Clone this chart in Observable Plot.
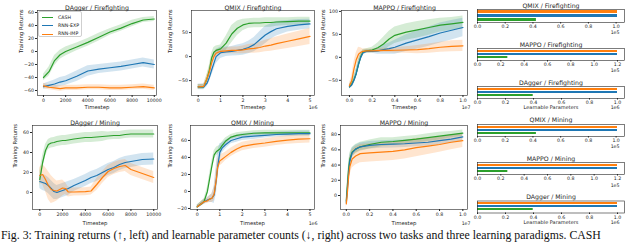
<!DOCTYPE html>
<html><head><meta charset="utf-8">
<script src="https://cdn.jsdelivr.net/npm/d3@7"></script>
<script src="https://cdn.jsdelivr.net/npm/@observablehq/plot@0.6"></script>
<style>
body{margin:0;background:#fff;}
#root{position:relative;width:640px;height:242px;overflow:hidden;background:#fff;font-family:"DejaVu Sans",sans-serif;color:#262626;}
.legend{position:absolute;left:38px;top:11px;width:44px;height:26px;box-sizing:border-box;border:0.6px solid #cfcfcf;border-radius:2px;background:rgba(255,255,255,0.85);font-size:4.7px;}
.legend div{position:absolute;left:3px;height:5px;line-height:5px;white-space:nowrap;}
.legend span{display:inline-block;width:11px;height:1.1px;vertical-align:middle;margin-right:5px;}
.caption{position:absolute;left:1px;top:229px;height:12px;line-height:12px;white-space:nowrap;font-family:"Liberation Serif",serif;font-size:11.8px;color:#111;}
</style></head>
<body><div id="root"></div>
<script>
const series = ["CASH", "RNN-EXP", "RNN-IMP"];
const colors = ["#2ca02c", "#1f77b4", "#ff7f0e"];
const barOrder = ["RNN-IMP", "RNN-EXP", "CASH"];

// DAgger / Firefighting
const dagFireT = [0,500,1000,1500,2000,3000,4000,5000,6000,7000,8000,9000,10000];
const dagFireCASH = [-40,-31,-14,-5,0,7,14,22,30,36,43,48.5,50];
const dagFireCASHsd = [5,7,8,7,7,6,6,6,5,5,5,4,4];
const dagFireEXP = [-54,-52,-50,-47,-45,-38,-30,-27,-25,-23,-20,-17,-20];
const dagFireEXPsd = [4,5,6,7,7,8,8,7,7,7,7,7,7];
const dagFireIMP = [-53,-55,-56,-57,-56,-56,-55,-55,-56,-56,-55,-54,-56];
const dagFireIMPsd = [4,4,4,4,4,4,4,4,4,4,4,4,4];

// QMIX / Firefighting
const qmixFireT = [0,250000,400000,500000,600000,700000,800000,1000000,1250000,1500000,1750000,2000000,2250000,2500000,2750000,3000000,3250000,3500000,4000000,4500000,5000000];
const qmixFireCASH = [-63,-63,-45,-28,-3,9,13,16,28,47,59,66,69,70,70,71,71,72,73,74,74];
const qmixFireCASHsd = [5,5,8,10,10,10,9,8,15,18,15,12,10,10,10,10,10,9,8,8,8];
const qmixFireEXP = [-63,-63,-55,-43,-28,-14,0,8,10,11,13,15,19,25,35,45,52,58,63,66,68];
const qmixFireEXPsd = [6,6,8,10,12,14,15,12,10,10,11,12,13,15,17,18,16,15,12,11,10];
const qmixFireIMP = [-63,-62,-45,-32,-13,0,7,11,12,13,13,14,16,17,19,22,24,27,32,37,42];
const qmixFireIMPsd = [5,5,8,10,10,8,7,6,6,7,7,8,9,10,11,12,13,14,15,16,17];

// MAPPO / Firefighting
const mappoFireT = [0,200000,400000,600000,800000,1000000,1200000,1500000,2000000,2500000,3000000,3500000,4000000,5000000,6000000,7000000,8000000,9000000,10000000];
const mappoFireIMP = [-62,-51,-25,-5,7,11,13,14,14,14.5,15,15,15.5,16,17,19,22,24,25];
const mappoFireIMPsd = [5,10,15,15,15,10,5,4,4,4,5,5,6,7,9,10,11,12,12];
const mappoFireEXP = [-64,-60,-50,-35,-15,0,10,13,13,14,17,19,22,31,38,45,53,59,65];
const mappoFireEXPsd = [5,6,8,10,10,8,5,4,4,7,10,12,15,18,20,21,22,21,20];
const mappoFireCASH = [-64,-58,-48,-35,-15,2,12,14,16,21,29,40,48,55,60,65,70,73,76];
const mappoFireCASHsd = [5,6,8,10,10,8,5,5,6,10,15,17,18,18,18,17,15,14,14];

// DAgger / Mining
const dagMineT = [0,250,500,750,1000,1250,1500,2000,2250,2500,3000,4000,4500,5000,5500,6000,6500,7000,7500,8000,9000,10000];
const dagMineCASH = [13,30,42,48,49.5,50,51,52,52,52.5,53.5,55,55,55.5,56,56.5,57,57,58,58.5,58.5,58.5];
const dagMineCASHsd = [8,7,6,5,5,5,5,5,5,5,5,5,5,5,5,4,4,4,4,4,4,4];
const dagMineEXP = [11,10,9,7,4,1,0,2,3,4,7,12,15,17,20,23,25,28,30,31,33,33.5];
const dagMineEXPsd = [7,8,8,8,8,8,7,7,7,7,6,6,6,6,6,6,6,6,6,6,6,6];
const dagMineIMP = [17,18,13,7,3,2,1.5,4.5,4,0.5,0.5,0.8,1.5,8,15,21,24,26,27,23,19,15];
const dagMineIMPsd = [8,10,12,14,14,12,10,8,6,5,4,4,4,6,6,6,6,6,6,6,6,6];

// QMIX / Mining
const qmixMineT = [0,300000,450000,550000,650000,750000,850000,900000,1000000,1100000,1250000,1500000,1750000,2000000,2500000,3000000,3500000,4000000,4500000,5000000];
const qmixMineCASH = [-18,-12,0,15,30,43,47,48,50,54,59,64,66,67,68.5,69,69,69,69,69];
const qmixMineCASHsd = [2,3,5,6,6,5,5,5,4,4,4,3,3,3,3,3,3,3,3,3];
const qmixMineEXP = [-18,-12,-10,-9,-8,-4,15,28,46,51,55,60,62,64,65,66,67,67.5,68,68];
const qmixMineEXPsd = [2,3,3,4,5,10,18,18,10,6,5,4,4,4,4,3,3,3,3,3];
const qmixMineIMP = [-18,-12,-11,-9,-8,-3,15,28,36,38,41,46,50,53,55.5,57,59,60.5,61.5,62];
const qmixMineIMPsd = [2,3,3,4,5,8,12,10,6,6,5,5,5,5,5,5,5,5,5,5];

// MAPPO / Mining
const mappoMineT = [0,100000,200000,300000,500000,800000,1200000,2000000,3000000,4000000,5000000,6000000,7000000,8000000,9000000,10000000];
const mappoMineIMP = [-11,5,25,38,48,52,55,56,57,58,60,63,65,67,70,72];
const mappoMineIMPsd = [6,10,12,12,12,12,12,12,12,12,12,12,11,10,10,9];
const mappoMineEXP = [-9,10,30,45,56,61,64,66,67,67.5,68,69,70,72,74,77];
const mappoMineEXPsd = [5,8,10,8,6,5,5,5,5,5,5,5,5,5,5,5];
const mappoMineCASH = [-7,15,35,48,57,61,64,67,70,71,72.5,74,76,78,80,82];
const mappoMineCASHsd = [5,8,8,8,6,6,6,6,6,5,5,5,5,5,4,4];

// Learnable parameter counts (order: RNN-IMP, RNN-EXP, CASH)
const qmixFireParams = [101000, 101000, 42500];
const mappoFireParams = [120000, 120000, 26000];
const dagFireParams = [1000000, 1000000, 398000];
const qmixMineParams = [101000, 101000, 42500];
const mappoMineParams = [120000, 120000, 26000];
const dagMineParams = [1000000, 1000000, 398000];

const captionText = "Fig. 3: Training returns (\u2191, left) and learnable parameter counts (\u2193, right) across two tasks and three learning paradigms. CASH";

const root = document.getElementById("root");

function rowsOf(t, triples) {
  const out = [];
  for (const [name, v, sd] of triples) {
    t.forEach((x, i) => out.push({t: x, y: v[i], lo: v[i] - sd[i], hi: v[i] + sd[i], s: name}));
  }
  return out;
}

function place(svg, sx, sy) {
  svg.style.position = "absolute";
  svg.style.left = sx + "px";
  svg.style.top = sy + "px";
  svg.style.overflow = "visible";
  svg.style.background = "transparent";
  svg.style.maxWidth = "none";
  root.appendChild(svg);
}

const FONT = "DejaVu Sans";
const INK = "#262626";

function linePanel(c) {
  const ml = c.fx0 - c.sx, mr = c.sx + c.w - c.fx1, mt = c.fy0 - c.sy, mb = c.sy + c.h - c.fy1;
  const marks = [
    Plot.areaY(c.rows, {x: "t", y1: "lo", y2: "hi", z: "s", fill: "s", fillOpacity: 0.2, clip: true}),
    Plot.lineY(c.rows, {x: "t", y: "y", z: "s", stroke: "s", strokeWidth: 1.2, clip: true}),
    Plot.frame({stroke: INK, strokeWidth: 0.6}),
    Plot.axisX({ticks: c.xTicks, tickFormat: c.xFmt, tickSize: 2, tickPadding: 1.5, fontSize: 4.7, label: null}),
    Plot.axisY({ticks: c.yTicks, tickSize: 2, tickPadding: 1.5, fontSize: 4.7, label: null}),
    Plot.text([c.title], {text: d => d, frameAnchor: "top", dy: -5, fontSize: 6.2}),
    Plot.text(["Timestep"], {text: d => d, frameAnchor: "bottom", dy: c.xlabDy, fontSize: 5.4}),
    Plot.text(["Training Returns"], {text: d => d, frameAnchor: "left", rotate: -90, dx: c.ylabX - c.fx0, fontSize: 5.4})
  ];
  if (c.offset) marks.push(Plot.text([c.offset], {text: d => d, frameAnchor: "bottom-right", textAnchor: "end", dx: 3, dy: c.xlabDy, fontSize: 4.7}));
  const svg = Plot.plot({
    width: c.w, height: c.h, marginLeft: ml, marginRight: mr, marginTop: mt, marginBottom: mb,
    style: {fontFamily: FONT, color: INK, background: "transparent", overflow: "visible"},
    x: {domain: c.xDomain}, y: {domain: c.yDomain},
    color: {domain: series, range: colors},
    marks
  });
  place(svg, c.sx, c.sy);
}

function barPanel(c) {
  const ml = c.fx0 - c.sx, mr = c.sx + c.w - c.fx1, mt = c.fy0 - c.sy, mb = c.sy + c.h - c.fy1;
  const data = barOrder.map((s, i) => ({s, v: c.values[i]}));
  const maxV = d3.max(c.values);
  const marks = [
    Plot.barX(data, {x: "v", y: "s", fill: "s"}),
    Plot.frame({stroke: INK, strokeWidth: 0.6}),
    Plot.axisX({ticks: c.ticks.map(t => t * c.scale), tickFormat: d => (d / c.scale).toFixed(1), tickSize: 1.5, tickPadding: 1, fontSize: 4.7, label: null}),
    Plot.text([c.title], {text: d => d, frameAnchor: "top", dy: c.titleDy, fontSize: 6.2}),
    Plot.text([c.offset], {text: d => d, frameAnchor: "bottom-right", textAnchor: "end", dx: -5, dy: c.offDy, fontSize: 4.7})
  ];
  if (c.xlabel) marks.push(Plot.text([c.xlabel], {text: d => d, frameAnchor: "bottom", dy: c.offDy, fontSize: 5.0}));
  const svg = Plot.plot({
    width: c.w, height: c.h, marginLeft: ml, marginRight: mr, marginTop: mt, marginBottom: mb,
    style: {fontFamily: FONT, color: INK, background: "transparent", overflow: "visible"},
    x: {domain: [0, maxV * 1.05]},
    y: {type: "band", domain: barOrder, paddingInner: 0.2, paddingOuter: 0.14, axis: null},
    color: {domain: series, range: colors},
    marks
  });
  place(svg, c.sx, c.sy);
}

const fmtInt = d3.format("d");
const fmtM = d => fmtInt(d / 1e6);
const fmtT = d => (d / 1e7).toFixed(1);

// Top row line panels
linePanel({sx: 0, sy: 0, w: 160, h: 112, fx0: 37, fx1: 156, fy0: 10, fy1: 95,
  xDomain: [-540, 10200], yDomain: [-67.7, 63.1],
  xTicks: [0,2000,4000,6000,8000,10000], xFmt: fmtInt, yTicks: [-60,-40,-20,0,20,40,60],
  title: "DAgger / Firefighting", ylabX: 21, xlabDy: 13,
  rows: rowsOf(dagFireT, [["CASH", dagFireCASH, dagFireCASHsd], ["RNN-EXP", dagFireEXP, dagFireEXPsd], ["RNN-IMP", dagFireIMP, dagFireIMPsd]])});

linePanel({sx: 160, sy: 0, w: 160, h: 112, fx0: 191, fx1: 314, fy0: 10, fy1: 95,
  xDomain: [-300000, 5200000], yDomain: [-81, 96],
  xTicks: [0,1e6,2e6,3e6,4e6,5e6], xFmt: fmtM, yTicks: [-50,0,50],
  title: "QMIX / Firefighting", ylabX: 170, xlabDy: 13, offset: "1e6",
  rows: rowsOf(qmixFireT, [["CASH", qmixFireCASH, qmixFireCASHsd], ["RNN-EXP", qmixFireEXP, qmixFireEXPsd], ["RNN-IMP", qmixFireIMP, qmixFireIMPsd]])});

linePanel({sx: 320, sy: 0, w: 155, h: 112, fx0: 341, fx1: 467, fy0: 10, fy1: 95,
  xDomain: [-700000, 10400000], yDomain: [-83, 102],
  xTicks: [0,2e6,4e6,6e6,8e6,1e7], xFmt: fmtT, yTicks: [-50,0,50,100],
  title: "MAPPO / Firefighting", ylabX: 323, xlabDy: 13, offset: "1e7",
  rows: rowsOf(mappoFireT, [["CASH", mappoFireCASH, mappoFireCASHsd], ["RNN-EXP", mappoFireEXP, mappoFireEXPsd], ["RNN-IMP", mappoFireIMP, mappoFireIMPsd]])});

// Bottom row line panels
linePanel({sx: 0, sy: 112, w: 160, h: 118, fx0: 32, fx1: 157, fy0: 125, fy1: 209,
  xDomain: [-640, 10330], yDomain: [-17, 67],
  xTicks: [0,2000,4000,6000,8000,10000], xFmt: fmtInt, yTicks: [0,20,40,60],
  title: "DAgger / Mining", ylabX: 15, xlabDy: 15,
  rows: rowsOf(dagMineT, [["CASH", dagMineCASH, dagMineCASHsd], ["RNN-EXP", dagMineEXP, dagMineEXPsd], ["RNN-IMP", dagMineIMP, dagMineIMPsd]])});

linePanel({sx: 160, sy: 112, w: 160, h: 118, fx0: 190, fx1: 314, fy0: 125, fy1: 209,
  xDomain: [-300000, 5200000], yDomain: [-21.2, 77.6],
  xTicks: [0,1e6,2e6,3e6,4e6,5e6], xFmt: fmtM, yTicks: [-20,0,20,40,60],
  title: "QMIX / Mining", ylabX: 170, xlabDy: 15, offset: "1e6",
  rows: rowsOf(qmixMineT, [["CASH", qmixMineCASH, qmixMineCASHsd], ["RNN-EXP", qmixMineEXP, qmixMineEXPsd], ["RNN-IMP", qmixMineIMP, qmixMineIMPsd]])});

linePanel({sx: 320, sy: 112, w: 155, h: 118, fx0: 340, fx1: 467, fy0: 125, fy1: 209,
  xDomain: [-500000, 10400000], yDomain: [-18.4, 92],
  xTicks: [0,2e6,4e6,6e6,8e6,1e7], xFmt: fmtT, yTicks: [0,20,40,60,80],
  title: "MAPPO / Mining", ylabX: 323, xlabDy: 15, offset: "1e7",
  rows: rowsOf(mappoMineT, [["CASH", mappoMineCASH, mappoMineCASHsd], ["RNN-EXP", mappoMineEXP, mappoMineEXPsd], ["RNN-IMP", mappoMineIMP, mappoMineIMPsd]])});

// Bar panels
barPanel({sx: 470, sy: 0, w: 170, h: 40, fx0: 477, fx1: 624, fy0: 9, fy1: 22, values: qmixFireParams,
  scale: 1e5, ticks: [0,0.2,0.4,0.6,0.8,1.0], title: "QMIX / Firefighting", titleDy: -5.5, offset: "1e5", offDy: 11});
barPanel({sx: 470, sy: 38, w: 170, h: 40, fx0: 477, fx1: 624, fy0: 48, fy1: 60, values: mappoFireParams,
  scale: 1e5, ticks: [0,0.2,0.4,0.6,0.8,1.0,1.2], title: "MAPPO / Firefighting", titleDy: -6, offset: "1e5", offDy: 11});
barPanel({sx: 470, sy: 76, w: 170, h: 36, fx0: 477, fx1: 624, fy0: 86, fy1: 98, values: dagFireParams,
  scale: 1e6, ticks: [0,0.2,0.4,0.6,0.8,1.0], title: "DAgger / Firefighting", titleDy: -6, offset: "1e6", offDy: 10.5, xlabel: "Learnable Parameters"});
barPanel({sx: 470, sy: 112, w: 170, h: 40, fx0: 477, fx1: 624, fy0: 124, fy1: 136, values: qmixMineParams,
  scale: 1e5, ticks: [0,0.2,0.4,0.6,0.8,1.0], title: "QMIX / Mining", titleDy: -6.5, offset: "1e5", offDy: 11.5});
barPanel({sx: 470, sy: 150, w: 170, h: 38, fx0: 477, fx1: 624, fy0: 162, fy1: 174, values: mappoMineParams,
  scale: 1e5, ticks: [0,0.2,0.4,0.6,0.8,1.0,1.2], title: "MAPPO / Mining", titleDy: -6, offset: "1e5", offDy: 12});
barPanel({sx: 470, sy: 188, w: 170, h: 42, fx0: 477, fx1: 624, fy0: 200.5, fy1: 212.5, values: dagMineParams,
  scale: 1e6, ticks: [0,0.2,0.4,0.6,0.8,1.0], title: "DAgger / Mining", titleDy: -6, offset: "1e6", offDy: 11, xlabel: "Learnable Parameters"});

// Legend (top-left panel)
const legend = document.createElement("div");
legend.className = "legend";
series.forEach((s, i) => {
  const row = document.createElement("div");
  row.style.top = (3 + i * 8.2) + "px";
  const sw = document.createElement("span");
  sw.style.background = colors[i];
  row.appendChild(sw);
  row.appendChild(document.createTextNode(s));
  legend.appendChild(row);
});
root.appendChild(legend);

// Caption (bottom edge)
const cap = document.createElement("div");
cap.className = "caption";
cap.textContent = captionText;
root.appendChild(cap);
</script>
</body></html>
